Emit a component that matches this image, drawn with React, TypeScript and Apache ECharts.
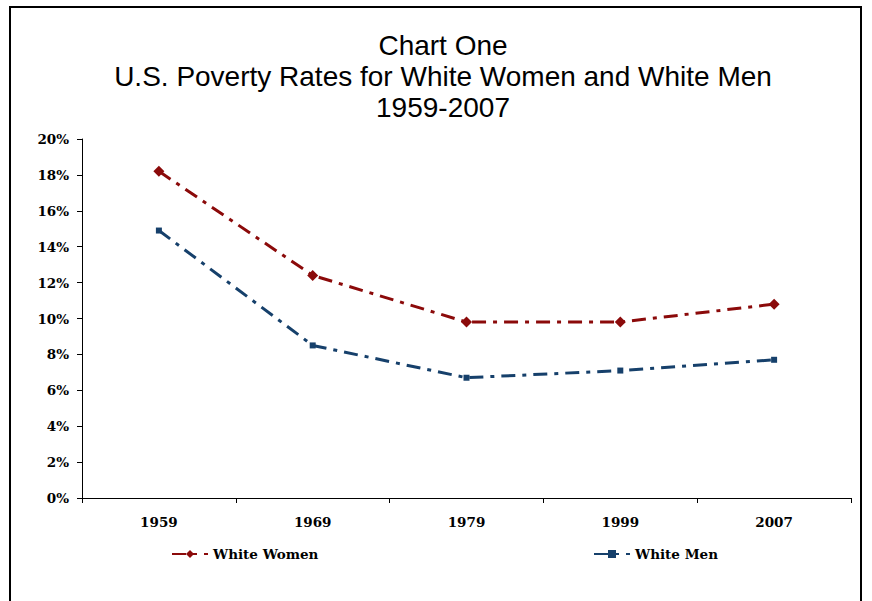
import React, { useEffect, useRef } from "react";
import * as echarts from "echarts";

const categories = ["1959", "1969", "1979", "1999", "2007"];
const whiteWomen = [18.2, 12.4, 9.8, 9.8, 10.8];
const whiteMen = [14.9, 8.5, 6.7, 7.1, 7.7];
const titleLines = ["Chart One", "U.S. Poverty Rates for White Women and White Men", "1959-2007"];

export default function App() {
  const ref = useRef<HTMLDivElement>(null);
  useEffect(() => {
    if (!ref.current) return;
    const chart = echarts.init(ref.current, undefined, { renderer: "svg" });
    const serifBold = {
      fontFamily: "DejaVu Serif, serif",
      fontWeight: "bold" as const,
      fontSize: 13.5,
      color: "#000",
    };
    chart.setOption({
      animation: false,
      backgroundColor: "#fff",
      title: {
        text: titleLines.join("\n"),
        left: 438,
        textAlign: "center",
        top: 25,
        textStyle: {
          fontFamily: "Liberation Sans, Arial, sans-serif",
          fontWeight: "normal",
          fontSize: 28,
          lineHeight: 31,
          color: "#000",
        },
      },
      graphic: [
        {
          type: "rect",
          shape: { x: 10, y: 7, width: 851, height: 700 },
          style: { fill: "none", stroke: "#000", lineWidth: 2 },
          silent: true,
        },
      ],
      legend: [
        {
          data: ["White Women"],
          left: 166,
          top: 542,
          itemWidth: 36,
          itemHeight: 10,
          itemGap: 10,
          textStyle: serifBold,
        },
        {
          data: ["White Men"],
          left: 588,
          top: 542,
          itemWidth: 36,
          itemHeight: 10,
          itemGap: 10,
          textStyle: serifBold,
        },
      ],
      grid: { left: 82, right: 21, top: 139, bottom: 103, containLabel: false },
      xAxis: {
        type: "category",
        data: categories,
        boundaryGap: true,
        axisLine: { lineStyle: { color: "#000", width: 1 } },
        axisTick: { show: true, length: 5, lineStyle: { color: "#000" } },
        axisLabel: { ...serifBold, margin: 17 },
        splitLine: { show: false },
      },
      yAxis: {
        type: "value",
        min: 0,
        max: 20,
        interval: 2,
        axisLine: { show: true, lineStyle: { color: "#000", width: 1 } },
        axisTick: { show: true, length: 5, lineStyle: { color: "#000" } },
        axisLabel: { ...serifBold, margin: 13, formatter: "{value}%" },
        splitLine: { show: false },
      },
      series: [
        {
          name: "White Women",
          type: "line",
          data: whiteWomen,
          symbol: "diamond",
          symbolSize: 11,
          itemStyle: { color: "#8B0A0A" },
          lineStyle: { color: "#8B0A0A", width: 3, type: [14, 7, 4, 7] },
        },
        {
          name: "White Men",
          type: "line",
          data: whiteMen,
          symbol: "rect",
          symbolSize: 6,
          itemStyle: { color: "#16406B" },
          lineStyle: { color: "#16406B", width: 3, type: [14, 7, 4, 7] },
        },
      ],
    });
    return () => chart.dispose();
  }, []);
  return (
    <div
      ref={ref}
      style={{ position: "fixed", left: 0, top: 0, width: 872, height: 601 }}
    />
  );
}
